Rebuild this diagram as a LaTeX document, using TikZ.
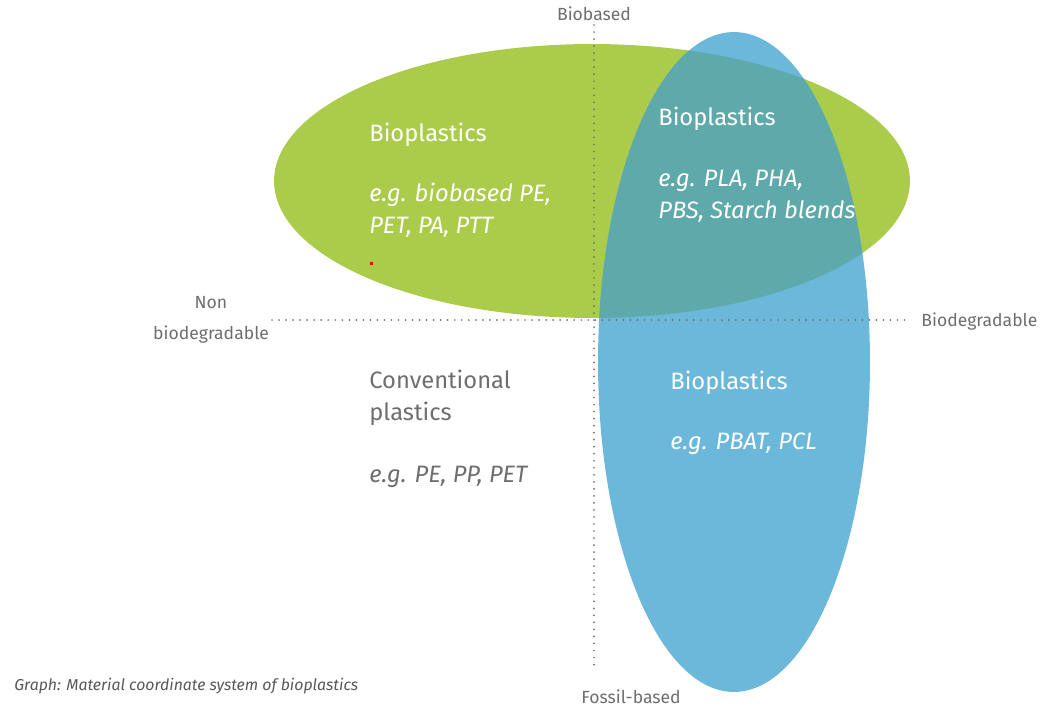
\documentclass[tikz,border=0pt]{standalone}
\usepackage{fontspec}
\setmainfont{Fira Sans}
\usetikzlibrary{shapes.geometric}

\definecolor{bioGreen}{HTML}{AACC4A}
\definecolor{bioBlue}{HTML}{6BB8DB}
\definecolor{bioTeal}{HTML}{5EA9AA}
\definecolor{axisGray}{HTML}{6E6E6E}

\begin{document}
\begin{tikzpicture}[x=0.02cm,y=-0.02cm]
        \tikzstyle{areatitle} = [anchor=base west, inner sep=0pt, align=left, text=white, font=\fontsize{13.5}{18}\selectfont];
        \tikzstyle{areaexample} = [areatitle, font=\fontsize{13.5}{18}\selectfont\itshape];
        \tikzstyle{axislabel} = [anchor=base, inner sep=0pt, align=center, text=axisGray, font=\fontsize{10}{17.6}\selectfont];
        \tikzstyle{axis} = [axisGray, line width=1.1pt, line cap=round, dash pattern=on 0pt off 4pt];

        \useasboundingbox (0,0) rectangle (1047,708);

        % the two ellipses and their overlap
        \fill[bioGreen] (592,181) ellipse [x radius=6.36cm, y radius=2.74cm];
        \fill[bioBlue] (734,362) ellipse [x radius=2.72cm, y radius=6.6cm];
        \begin{scope}
            \clip (592,181) ellipse [x radius=6.36cm, y radius=2.74cm];
            \fill[bioTeal] (734,362) ellipse [x radius=2.72cm, y radius=6.6cm];
        \end{scope}
        \fill[red] (369.5,261.5) rectangle (372.5,264.5);

        % axes
        \coordinate (top) at (594,25);
        \coordinate (bottom) at (594,670);
        \coordinate (left) at (272,320);
        \coordinate (right) at (905,320);
        \draw[axis] (top) -- (bottom);
        \draw[axis] (left) -- (right);

        \node(biobased) [axislabel] at (594,20) {Biobased};
        \node(fossil) [axislabel] at (631,703) {Fossil-based};
        \node(nonbio) [axislabel] at (211,339) {Non\\biodegradable};
        \node(bio) [axislabel, anchor=base west] at (921,326) {Biodegradable};

        % quadrant texts (base = last line)
        \node(greentitle) [areatitle] at (369,141) {Bioplastics};
        \node(greenex) [areaexample] at (369,233) {e.g. biobased PE,\\PET, PA, PTT};
        \node(tealtitle) [areatitle] at (658,125) {Bioplastics};
        \node(tealex) [areaexample] at (658,218) {e.g. PLA, PHA,\\PBS, Starch blends};
        \node(convtitle) [areatitle, text=axisGray] at (369,420) {Conventional\\plastics};
        \node(convex) [areaexample, text=axisGray] at (369,482) {e.g. PE, PP, PET};
        \node(bluetitle) [areatitle] at (670,389) {Bioplastics};
        \node(blueex) [areaexample] at (670,449) {e.g. PBAT, PCL};

        \node(caption) [anchor=base west, inner sep=0pt, text=axisGray!80!black, font=\fontsize{9}{11}\selectfont\itshape] at (14,690) {Graph: Material coordinate system of bioplastics};

    \end{tikzpicture}
\end{document}
